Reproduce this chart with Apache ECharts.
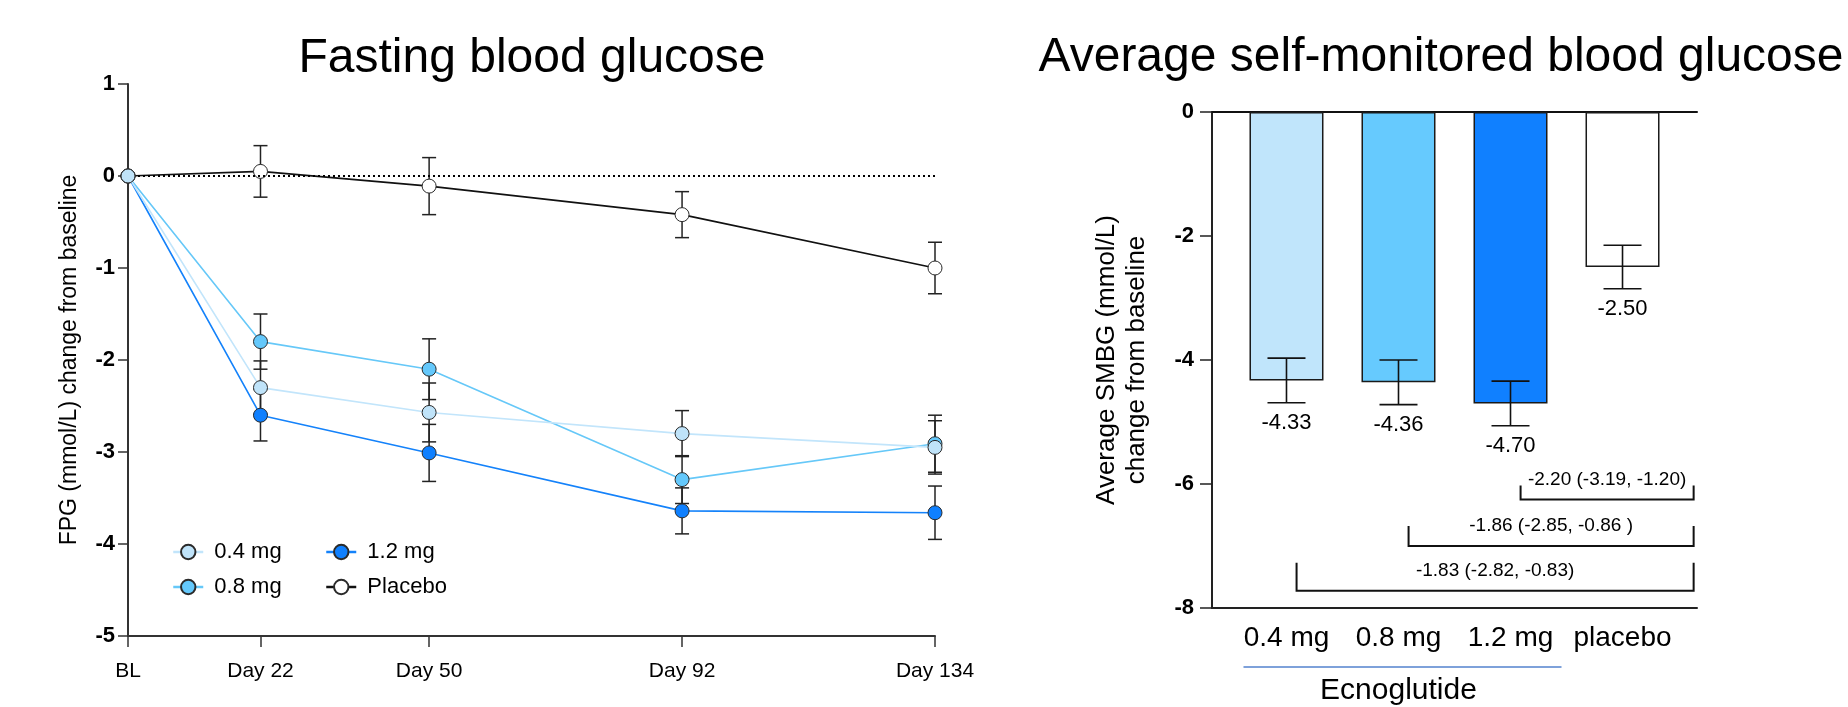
<!DOCTYPE html>
<html>
<head>
<meta charset="utf-8">
<script src="https://cdn.jsdelivr.net/npm/echarts@6/dist/echarts.min.js"></script>
<style>
html,body{margin:0;padding:0;background:#fff;}
#chart{width:1848px;height:707px;}
</style>
</head>
<body>
<div id="chart"></div>
<script>
// ---------- data ----------
const days = [0, 22, 50, 92, 134];
const dayLabels = ['BL', 'Day 22', 'Day 50', 'Day 92', 'Day 134'];
const doseNames = ['0.4 mg', '0.8 mg', '1.2 mg', 'Placebo'];
const fpg04 = [0, -2.30, -2.57, -2.80, -2.95];
const fpg04Se = [0, 0.29, 0.32, 0.25, 0.29];
const fpg08 = [0, -1.80, -2.10, -3.30, -2.91];
const fpg08Se = [0, 0.30, 0.33, 0.26, 0.31];
const fpg12 = [0, -2.60, -3.01, -3.64, -3.66];
const fpg12Se = [0, 0.28, 0.31, 0.25, 0.29];
const fpgPbo = [0, 0.05, -0.11, -0.42, -1.00];
const fpgPboSe = [0, 0.28, 0.31, 0.25, 0.28];

const smbgGroups = ['0.4 mg', '0.8 mg', '1.2 mg', 'placebo'];
const smbgMean = [-4.33, -4.36, -4.70, -2.50];
const smbgSe = [0.36, 0.36, 0.36, 0.35];
const cmpFrom = [0, 1, 2];
const cmpTo = [3, 3, 3];
const cmpLabels = ['-1.83 (-2.82, -0.83)', '-1.86 (-2.85, -0.86 )', '-2.20 (-3.19, -1.20)'];
const drugName = 'Ecnoglutide';
const drugGroups = [0, 1, 2];

const leftTitle = 'Fasting blood glucose';
const rightTitle = 'Average self-monitored blood glucose';
const leftYName = 'FPG (mmol/L) change from baseline';
const rightYName = 'Average SMBG (mmol/L)\nchange from baseline';

// ---------- styles / layout ----------
const FONT = '"Liberation Sans", Arial, Helvetica, sans-serif';
const lineColors = ['#C2E5FB', '#66C8F8', '#1482FA', '#111111'];
const markerFill = ['#BFE3F9', '#64C8FB', '#0F80FF', '#FFFFFF'];
const barFill = ['#C0E5FB', '#66CAFE', '#1080FF', '#FFFFFF'];
const AX = '#333333';
const bracketLayout = [ {y: -7.72, leg: 28}, {y: -7.0, leg: 20}, {y: -6.25, leg: 14} ];
const bracketLeftOffset = 0.09, bracketRightX = 3.635;

const fpgSets = [[fpg04, fpg04Se], [fpg08, fpg08Se], [fpg12, fpg12Se], [fpgPbo, fpgPboSe]];

const chart = echarts.init(document.getElementById('chart'), null, {renderer: 'canvas'});

const lineSeries = fpgSets.map(([m], i) => ({
  name: doseNames[i], type: 'line', xAxisIndex: 0, yAxisIndex: 0,
  data: days.map((d, j) => [d, m[j]]),
  symbol: 'circle', symbolSize: 14, z: 3 + (i === 0 ? 2 : i === 1 ? 1 : 0),
  lineStyle: {color: lineColors[i], width: 1.6},
  itemStyle: {color: markerFill[i], borderColor: '#2a2a2a', borderWidth: 1},
  emphasis: {disabled: true}, animation: false,
  markLine: i === 3 ? {
    silent: true, symbol: 'none', label: {show: false},
    lineStyle: {color: '#000', type: [2, 3], width: 2},
    data: [{yAxis: 0}], animation: false
  } : undefined
}));

const errSeries = fpgSets.map(([m, se], i) => ({
  name: 'err' + i, type: 'custom', xAxisIndex: 0, yAxisIndex: 0, z: 2,
  data: days.map((d, j) => [d, m[j], se[j]]),
  encode: {x: 0, y: 1},
  renderItem: (params, api) => {
    const x = api.value(0), mv = api.value(1), s = api.value(2);
    if (!s) return null;
    const t = api.coord([x, mv + s]), b = api.coord([x, mv - s]);
    const st = {stroke: '#222', lineWidth: 1.5};
    return {type: 'group', children: [
      {type: 'line', shape: {x1: t[0], y1: t[1], x2: b[0], y2: b[1]}, style: st},
      {type: 'line', shape: {x1: t[0] - 7, y1: t[1], x2: t[0] + 7, y2: t[1]}, style: st},
      {type: 'line', shape: {x1: b[0] - 7, y1: b[1], x2: b[0] + 7, y2: b[1]}, style: st}
    ]};
  }, animation: false
}));

const barSeries = {
  name: 'smbg', type: 'bar', xAxisIndex: 1, yAxisIndex: 1, barWidth: 74,
  data: smbgMean.map((v, i) => ({value: [i, v], itemStyle: {color: barFill[i]}})),
  itemStyle: {borderColor: '#1a1a1a', borderWidth: 1.5},
  emphasis: {disabled: true}, animation: false, z: 2
};

const barErrSeries = {
  name: 'smbgErr', type: 'custom', xAxisIndex: 1, yAxisIndex: 1, z: 4,
  data: smbgMean.map((v, i) => [i, v, smbgSe[i]]),
  encode: {x: 0, y: 1},
  renderItem: (params, api) => {
    const x = api.value(0), mv = api.value(1), s = api.value(2);
    const t = api.coord([x, mv + s]), b = api.coord([x, mv - s]);
    const st = {stroke: '#111', lineWidth: 1.6};
    return {type: 'group', children: [
      {type: 'line', shape: {x1: t[0], y1: t[1], x2: b[0], y2: b[1]}, style: st},
      {type: 'line', shape: {x1: t[0] - 19, y1: t[1], x2: t[0] + 19, y2: t[1]}, style: st},
      {type: 'line', shape: {x1: b[0] - 19, y1: b[1], x2: b[0] + 19, y2: b[1]}, style: st},
      {type: 'text', style: {text: mv.toFixed(2), x: b[0], y: b[1] + 20, align: 'center', verticalAlign: 'middle',
        fontSize: 22, fontFamily: FONT, fill: '#000'}}
    ]};
  }, animation: false
};

const bracketSeries = {
  name: 'cmp', type: 'custom', xAxisIndex: 1, yAxisIndex: 1, z: 4,
  data: cmpFrom.map((f, i) => [f, cmpTo[i], i]),
  encode: {x: 0, y: 1},
  renderItem: (params, api) => {
    const i = params.dataIndex, L = bracketLayout[i];
    const p1 = api.coord([cmpFrom[i] + bracketLeftOffset, L.y]);
    const p2 = api.coord([bracketRightX - (3 - cmpTo[i]), L.y]);
    const st = {stroke: '#111', lineWidth: 2};
    return {type: 'group', children: [
      {type: 'polyline', shape: {points: [[p1[0], p1[1] - L.leg], [p1[0], p1[1]], [p2[0], p2[1]], [p2[0], p2[1] - L.leg]]}, style: Object.assign({fill: null}, st)},
      {type: 'text', style: {text: cmpLabels[i], x: (p1[0] + p2[0]) / 2, y: p1[1] - 20, align: 'center', verticalAlign: 'middle',
        fontSize: 19, fontFamily: FONT, fill: '#000'}}
    ]};
  }, animation: false
};

const drugSeries = {
  name: 'drug', type: 'custom', xAxisIndex: 1, yAxisIndex: 1, z: 4, clip: false,
  data: [[drugGroups[0], -8]],
  encode: {x: 0, y: 1},
  renderItem: (params, api) => {
    const a = api.coord([drugGroups[0], -8]);
    const b = api.coord([drugGroups[drugGroups.length - 1], -8]);
    const y = a[1] + 59;
    return {type: 'group', children: [
      {type: 'line', shape: {x1: a[0] - 43, y1: y, x2: b[0] + 51, y2: y}, style: {stroke: '#7EA1DA', lineWidth: 2}},
      {type: 'text', style: {text: drugName, x: (a[0] + b[0]) / 2, y: y + 24, align: 'center', verticalAlign: 'middle',
        fontSize: 30, fontFamily: FONT, fill: '#000'}}
    ]};
  }, animation: false
};

const legendCommon = {
  orient: 'vertical', top: 541, padding: 0,
  itemWidth: 30, itemHeight: 18, itemGap: 13,
  lineStyle: {width: 2.5},
  formatter: n => ' ' + n,
  textStyle: {fontSize: 22, color: '#000', fontFamily: FONT}
};

const option = {
  backgroundColor: '#fff',
  animation: false,
  textStyle: {fontFamily: FONT},
  title: [
    {text: leftTitle, left: 532, top: 35, textAlign: 'center', padding: 0,
      textStyle: {fontSize: 48, fontWeight: 'normal', color: '#000', fontFamily: FONT}},
    {text: rightTitle, left: 1441, top: 34, textAlign: 'center', padding: 0,
      textStyle: {fontSize: 48, fontWeight: 'normal', color: '#000', fontFamily: FONT}}
  ],
  legend: [
    Object.assign({data: [doseNames[0], doseNames[1]], left: 172}, legendCommon),
    Object.assign({data: [doseNames[2], doseNames[3]], left: 325}, legendCommon)
  ],
  grid: [
    {left: 128, top: 84, width: 807, height: 552, containLabel: false},
    {left: 1212, top: 112, width: 485, height: 496, containLabel: false}
  ],
  xAxis: [
    {type: 'value', gridIndex: 0, min: 0, max: 134,
      axisLine: {show: true, onZero: false, lineStyle: {color: AX, width: 2}},
      axisTick: {show: true, length: 11, customValues: days, lineStyle: {color: AX, width: 1.5}},
      axisLabel: {customValues: days, margin: 25, fontSize: 21, color: '#000', fontFamily: FONT,
        formatter: v => dayLabels[days.indexOf(v)]},
      splitLine: {show: false}},
    {type: 'value', gridIndex: 1, min: -0.665, max: 3.665, position: 'bottom',
      axisLine: {show: true, onZero: false, lineStyle: {color: '#222', width: 2}},
      axisTick: {show: false},
      axisLabel: {customValues: [0, 1, 2, 3], margin: 16, fontSize: 28, color: '#000', fontFamily: FONT,
        formatter: v => smbgGroups[Math.round(v)]},
      splitLine: {show: false}},
    {type: 'value', gridIndex: 1, min: -0.665, max: 3.665, position: 'top',
      axisLine: {show: true, onZero: false, lineStyle: {color: '#111', width: 2}},
      axisTick: {show: false}, axisLabel: {show: false}, splitLine: {show: false}}
  ],
  yAxis: [
    {type: 'value', gridIndex: 0, min: -5, max: 1, interval: 1,
      name: leftYName, nameLocation: 'middle', nameGap: 47,
      nameTextStyle: {fontSize: 23, color: '#000', fontFamily: FONT},
      axisLine: {show: true, onZero: false, lineStyle: {color: AX, width: 2}},
      axisTick: {show: true, length: 10, lineStyle: {color: AX, width: 1.5}},
      axisLabel: {fontSize: 22, fontWeight: 'bold', color: '#000', margin: 13, fontFamily: FONT},
      splitLine: {show: false}},
    {type: 'value', gridIndex: 1, min: -8, max: 0, interval: 2,
      name: rightYName, nameLocation: 'middle', nameGap: 60,
      nameTextStyle: {fontSize: 26, lineHeight: 30, color: '#000', fontFamily: FONT},
      axisLine: {show: true, onZero: false, lineStyle: {color: '#222', width: 2}},
      axisTick: {show: true, length: 12, lineStyle: {color: '#222', width: 1.5}},
      axisLabel: {fontSize: 22, fontWeight: 'bold', color: '#000', margin: 18, fontFamily: FONT},
      splitLine: {show: false}}
  ],
  series: [].concat(errSeries, lineSeries.slice().reverse(), [barSeries, barErrSeries, bracketSeries, drugSeries])
};
chart.setOption(option);
</script>
</body>
</html>
